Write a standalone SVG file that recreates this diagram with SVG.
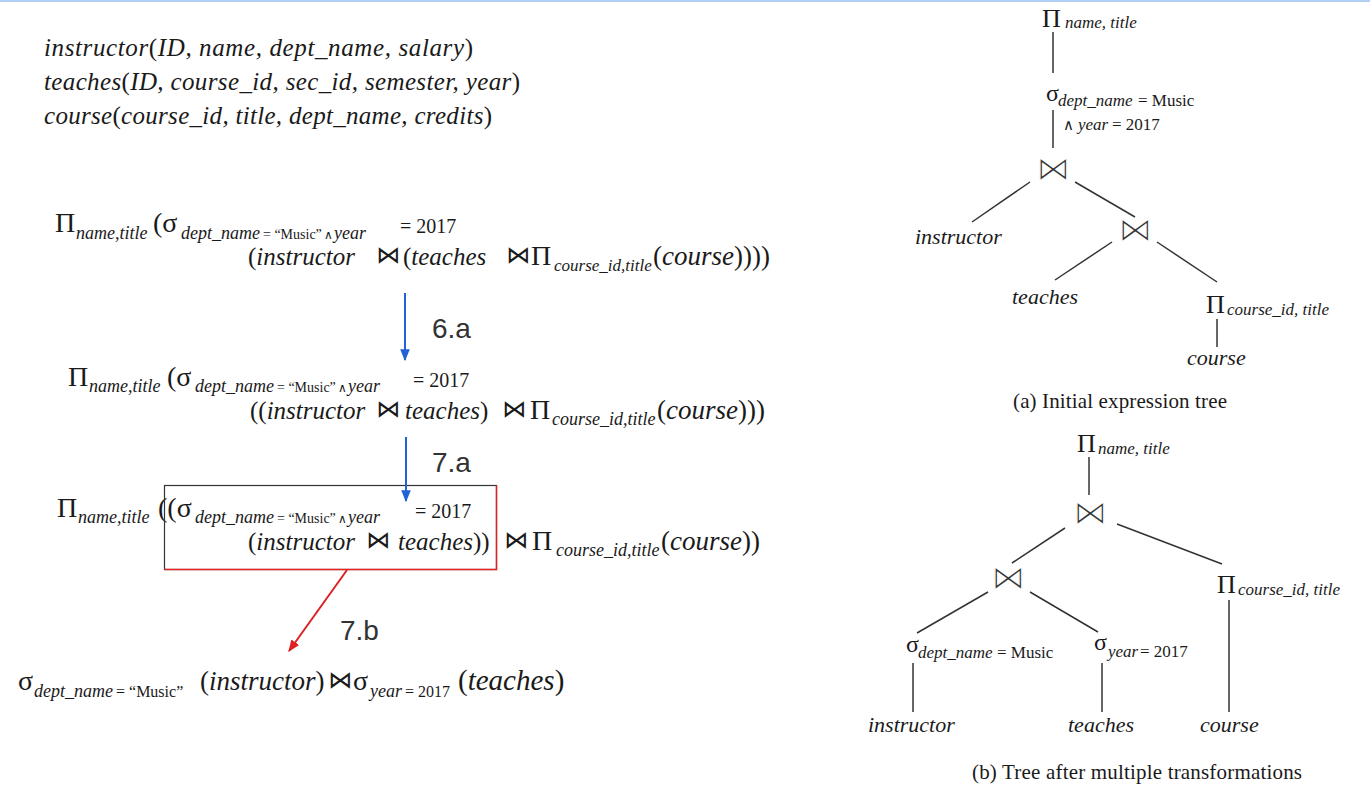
<svg xmlns="http://www.w3.org/2000/svg" width="1370" height="791" viewBox="0 0 1370 791">
  <style>
    .s { font-family: "Liberation Serif", "DejaVu Serif", serif; fill: #1a1a1a; }
    .i { font-style: italic; }
    .n { font-style: normal; }
    .bt { font-family: "DejaVu Sans", sans-serif; fill: #1a1a1a; }
    .bt-thin { font-family: "DejaVu Sans", sans-serif; fill: #333; stroke: #ffffff; stroke-width: 1.3; paint-order: fill; }
    .lbl { font-family: "Liberation Sans", Arial, sans-serif; font-size: 28px; fill: #333; }
    .edge { stroke: #333; stroke-width: 1.5; fill: none; }
  </style>
  <defs>
    <marker id="ahBlue" viewBox="0 0 10 10" refX="9" refY="5" markerWidth="6" markerHeight="6" orient="auto">
      <path d="M0,1 L10,5 L0,9 z" fill="#1f63d6"/>
    </marker>
    <marker id="ahRed" viewBox="0 0 10 10" refX="9" refY="5" markerWidth="6" markerHeight="6" orient="auto">
      <path d="M0,1 L10,5 L0,9 z" fill="#dd2222"/>
    </marker>
  </defs>

  <rect width="1370" height="791" fill="#ffffff"/>
  <rect x="0" y="0" width="1370" height="2" fill="#b3d0f4"/>

  <!-- relation schemas -->
  <g id="schemas" class="s i" font-size="25">
    <text x="44" y="56" textLength="429" lengthAdjust="spacing">instructor<tspan class="n">(</tspan>ID, name, dept_name, salary<tspan class="n">)</tspan></text>
    <text x="44" y="90" textLength="476" lengthAdjust="spacing">teaches<tspan class="n">(</tspan>ID, course_id, sec_id, semester, year<tspan class="n">)</tspan></text>
    <text x="44" y="124" textLength="448" lengthAdjust="spacing">course<tspan class="n">(</tspan>course_id, title, dept_name, credits<tspan class="n">)</tspan></text>
  </g>

  <!-- expression 1 -->
  <g id="expr1" class="s">
    <text x="55" y="232" font-size="28">Π</text>
    <text x="76" y="239" font-size="18" class="s i">name,title</text>
    <text x="153" y="232" font-size="28">(σ</text>
    <text x="181" y="239" font-size="18" class="s i">dept_name</text>
    <text x="263" y="239" font-size="14">= “Music”</text>
    <text x="324" y="239" font-size="12" class="bt">∧</text>
    <text x="334" y="239" font-size="18" class="s i">year</text>
    <text x="400" y="233" font-size="20">= 2017</text>
    <text x="248" y="265" font-size="25">(<tspan class="i">instructor</tspan></text>
    <text x="388" y="263" font-size="24" class="bt" text-anchor="middle">⋈</text>
    <text x="403" y="265" font-size="25">(<tspan class="i">teaches</tspan></text>
    <text x="518" y="263" font-size="24" class="bt" text-anchor="middle">⋈</text>
    <text x="531" y="265" font-size="28">Π</text>
    <text x="554" y="271" font-size="17" class="s i">course_id,title</text>
    <text x="653" y="265" font-size="27">(<tspan class="i">course</tspan>))))</text>
  </g>

  <!-- expression 2 -->
  <g id="expr2" class="s">
    <text x="68" y="386" font-size="28">Π</text>
    <text x="89" y="392" font-size="18" class="s i">name,title</text>
    <text x="167" y="386" font-size="28">(σ</text>
    <text x="195" y="392" font-size="18" class="s i">dept_name</text>
    <text x="277" y="392" font-size="14">= “Music”</text>
    <text x="338" y="392" font-size="12" class="bt">∧</text>
    <text x="348" y="392" font-size="18" class="s i">year</text>
    <text x="413" y="387" font-size="20">= 2017</text>
    <text x="250" y="419" font-size="25">((<tspan class="i">instructor</tspan></text>
    <text x="388" y="417" font-size="24" class="bt" text-anchor="middle">⋈</text>
    <text x="405" y="419" font-size="25"><tspan class="i">teaches</tspan>)</text>
    <text x="514" y="417" font-size="24" class="bt" text-anchor="middle">⋈</text>
    <text x="530" y="419" font-size="28">Π</text>
    <text x="552" y="425" font-size="18" class="s i">course_id,title</text>
    <text x="657" y="419" font-size="27">(<tspan class="i">course</tspan>)))</text>
  </g>

  <!-- expression 3 with highlighted sub-expression -->
  <g id="expr3" class="s">
    <text x="57" y="517" font-size="28">Π</text>
    <text x="78" y="523" font-size="18" class="s i">name,title</text>
    <text x="158" y="517" font-size="28">((σ</text>
    <text x="195" y="523" font-size="18" class="s i">dept_name</text>
    <text x="277" y="523" font-size="14">= “Music”</text>
    <text x="338" y="523" font-size="12" class="bt">∧</text>
    <text x="348" y="523" font-size="18" class="s i">year</text>
    <text x="415" y="518" font-size="20">= 2017</text>
    <text x="248" y="550" font-size="25">(<tspan class="i">instructor</tspan></text>
    <text x="378" y="548" font-size="24" class="bt" text-anchor="middle">⋈</text>
    <text x="398" y="550" font-size="25"><tspan class="i">teaches</tspan>))</text>
    <text x="516" y="548" font-size="24" class="bt" text-anchor="middle">⋈</text>
    <text x="532" y="550" font-size="28">Π</text>
    <text x="556" y="556" font-size="18" class="s i">course_id,title</text>
    <text x="661" y="550" font-size="27">(<tspan class="i">course</tspan>))</text>
  </g>
  <g id="highlight-box">
    <rect x="164.5" y="485.5" width="332" height="84" fill="none" stroke="#333" stroke-width="1.2"/>
    <polyline points="164.5,569.5 496.5,569.5 496.5,485.5" fill="none" stroke="#e02424" stroke-width="1.5"/>
  </g>

  <!-- final expression -->
  <g id="expr4" class="s">
    <text x="18" y="690" font-size="28">σ</text>
    <text x="34" y="697" font-size="18" class="s i">dept_name</text>
    <text x="116" y="697" font-size="16">= “Music”</text>
    <text x="200" y="690" font-size="27">(<tspan class="i">instructor</tspan>)</text>
    <text x="340" y="688" font-size="24" class="bt" text-anchor="middle">⋈</text>
    <text x="353" y="690" font-size="28">σ</text>
    <text x="370" y="697" font-size="18" class="s i">year</text>
    <text x="405" y="697" font-size="16">= 2017</text>
    <text x="458" y="690" font-size="29">(<tspan class="i">teaches</tspan>)</text>
  </g>

  <!-- transformation steps -->
  <g id="steps">
    <line x1="405" y1="293" x2="405" y2="360" stroke="#1f63d6" stroke-width="2" marker-end="url(#ahBlue)"/>
    <line x1="406" y1="437" x2="406" y2="501" stroke="#1f63d6" stroke-width="2" marker-end="url(#ahBlue)"/>
    <line x1="347" y1="570" x2="289" y2="651" stroke="#dd2222" stroke-width="2" marker-end="url(#ahRed)"/>
  </g>
  <g id="step-labels" class="lbl">
    <text x="432" y="338">6.a</text>
    <text x="432" y="472">7.a</text>
    <text x="340" y="640">7.b</text>
  </g>

  <!-- tree (a): initial expression tree -->
  <g id="treeA-edges" class="edge">
    <line x1="1053" y1="32" x2="1053" y2="73"/>
    <line x1="1053" y1="110" x2="1053" y2="148"/>
    <line x1="1030" y1="182" x2="972" y2="222"/>
    <line x1="1075" y1="182" x2="1135" y2="217"/>
    <line x1="1112" y1="242" x2="1055" y2="280"/>
    <line x1="1157" y1="242" x2="1217" y2="282"/>
    <line x1="1217" y1="319" x2="1217" y2="347"/>
  </g>
  <g id="treeA-proj" class="s">
    <text x="1042" y="27" font-size="26">Π</text>
    <text x="1065" y="28" font-size="17" class="s i">name, title</text>
  </g>
  <g id="treeA-select" class="s">
    <text x="1046" y="101" font-size="24">σ</text>
    <text x="1058" y="106" font-size="17" class="s i">dept_name</text>
    <text x="1138" y="106" font-size="17">= Music</text>
    <text x="1063" y="130" font-size="15" class="bt">∧</text>
    <text x="1078" y="130" font-size="17" class="s i">year</text>
    <text x="1112" y="130" font-size="17">= 2017</text>
  </g>
  <g id="treeA-join1"><text x="1053" y="180" font-size="34" class="bt-thin" text-anchor="middle">⋈</text></g>
  <g id="treeA-instructor"><text x="915" y="244" font-size="22" class="s i">instructor</text></g>
  <g id="treeA-join2"><text x="1135" y="241" font-size="34" class="bt-thin" text-anchor="middle">⋈</text></g>
  <g id="treeA-teaches"><text x="1012" y="304" font-size="22" class="s i">teaches</text></g>
  <g id="treeA-proj2" class="s">
    <text x="1206" y="313" font-size="26">Π</text>
    <text x="1227" y="315" font-size="17" class="s i">course_id, title</text>
  </g>
  <g id="treeA-course"><text x="1187" y="365" font-size="22" class="s i">course</text></g>
  <g id="treeA-caption"><text x="1013" y="408" font-size="21" class="s" textLength="214" lengthAdjust="spacing">(a) Initial expression tree</text></g>

  <!-- tree (b): after multiple transformations -->
  <g id="treeB-edges" class="edge">
    <line x1="1089" y1="457" x2="1089" y2="495"/>
    <line x1="1065" y1="528" x2="1012" y2="563"/>
    <line x1="1117" y1="524" x2="1222" y2="564"/>
    <line x1="988" y1="592" x2="917" y2="633"/>
    <line x1="1030" y1="592" x2="1098" y2="632"/>
    <line x1="1229" y1="600" x2="1229" y2="712"/>
    <line x1="913" y1="663" x2="913" y2="712"/>
    <line x1="1102" y1="663" x2="1102" y2="712"/>
  </g>
  <g id="treeB-proj" class="s">
    <text x="1077" y="452" font-size="26">Π</text>
    <text x="1098" y="454" font-size="17" class="s i">name, title</text>
  </g>
  <g id="treeB-join1"><text x="1090" y="524" font-size="34" class="bt-thin" text-anchor="middle">⋈</text></g>
  <g id="treeB-join2"><text x="1008" y="589" font-size="34" class="bt-thin" text-anchor="middle">⋈</text></g>
  <g id="treeB-proj2" class="s">
    <text x="1217" y="593" font-size="26">Π</text>
    <text x="1238" y="595" font-size="17" class="s i">course_id, title</text>
  </g>
  <g id="treeB-sel-dept" class="s">
    <text x="906" y="652" font-size="24">σ</text>
    <text x="918" y="658" font-size="17" class="s i">dept_name</text>
    <text x="997" y="658" font-size="17">= Music</text>
  </g>
  <g id="treeB-sel-year" class="s">
    <text x="1094" y="650" font-size="24">σ</text>
    <text x="1108" y="657" font-size="17" class="s i">year</text>
    <text x="1140" y="657" font-size="17">= 2017</text>
  </g>
  <g id="treeB-instructor"><text x="868" y="732" font-size="22" class="s i">instructor</text></g>
  <g id="treeB-teaches"><text x="1068" y="732" font-size="22" class="s i">teaches</text></g>
  <g id="treeB-course"><text x="1200" y="732" font-size="22" class="s i">course</text></g>
  <g id="treeB-caption"><text x="972" y="779" font-size="21" class="s" textLength="330" lengthAdjust="spacing">(b) Tree after multiple transformations</text></g>
</svg>
